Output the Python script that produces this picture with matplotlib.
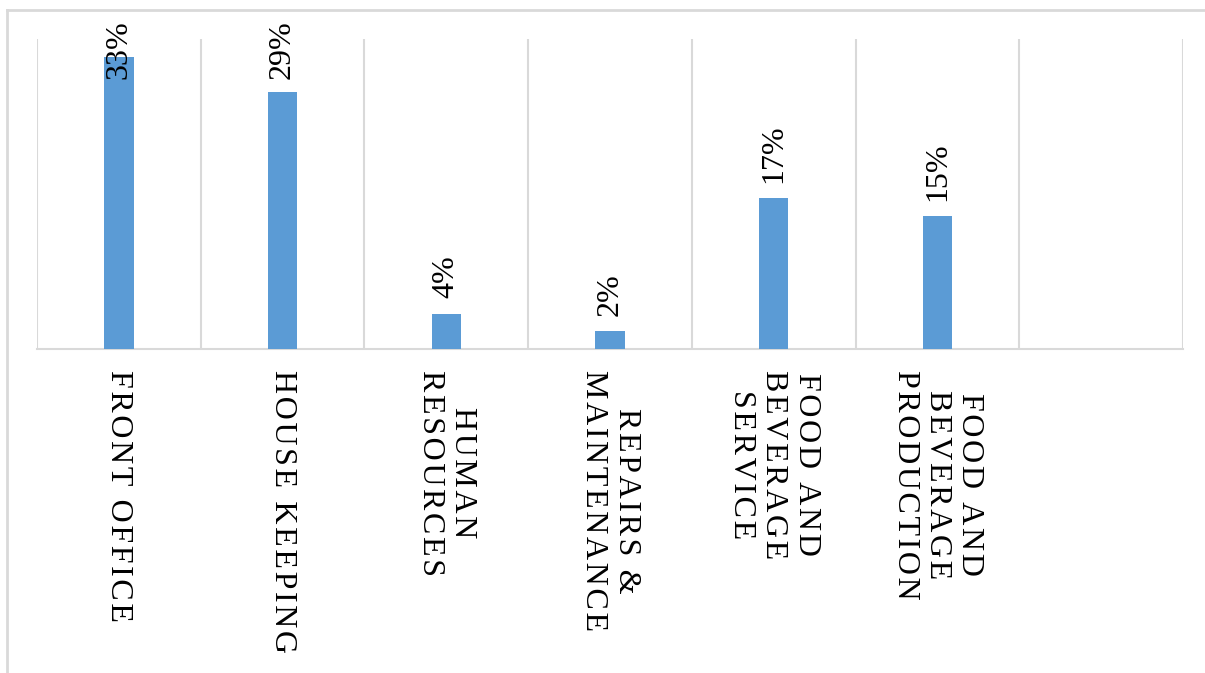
#!/usr/bin/env python3
"""
Departments bar chart with rotated labels
"""

import numpy as np
import matplotlib
matplotlib.use("Agg")
import matplotlib.pyplot as plt
from matplotlib.lines import Line2D

categories = ["FRONT OFFICE", "HOUSE KEEPING", "HUMAN\nRESOURCES",
              "REPAIRS &\nMAINTENANCE", "FOOD AND\nBEVERAGE\nSERVICE",
              "FOOD AND\nBEVERAGE\nPRODUCTION", ""]
values = [33, 29, 4, 2, 17, 15, None]
value_labels = ["33%", "29%", "4%", "2%", "17%", "15%", ""]

W, H = 1205, 673
plt.rcParams['font.family'] = ['Liberation Serif', 'DejaVu Serif']


def spaced(s):
    """
    add a little letter spacing, like the word processor did
    """
    return "\n".join("\u200a".join(line) for line in s.split("\n"))


fig = plt.figure(figsize=(W / 100, H / 100), dpi=100)
# axes box in pixels
left, right, top, bottom = 37, 1183, 39, 349
ax = fig.add_axes([left / W, 1 - bottom / H, (right - left) / W, (bottom - top) / H])

x = np.arange(len(categories))
heights = [v if v is not None else 0 for v in values]
ax.bar(x, heights, width=0.18, color="#5b9bd5", zorder=3)

ax.set_xlim(-0.5, len(categories) - 0.5)
ax.set_ylim(0, 35)
ax.set_yticks([])
ax.set_xticks(x)
ax.set_xticklabels([spaced(c) for c in categories], rotation=-90, fontsize=23,
                   ha="center", va="top", multialignment="center", linespacing=1.15)
ax.tick_params(axis="x", length=0, pad=15)

# category separators
for b in np.arange(-0.5, len(categories), 1.0):
    ax.axvline(b, color="#d9d9d9", lw=1.5, zorder=1)
for s in ["top", "right", "left"]:
    ax.spines[s].set_visible(False)
ax.spines["bottom"].set_color("#d9d9d9")
ax.spines["bottom"].set_linewidth(1.5)

# data labels
fig.canvas.draw()
renderer = fig.canvas.get_renderer()
top_limit = H - 20  # pixel y of highest allowed label top (display coords)
for xi, v, lab in zip(x, values, value_labels):
    if v is None:
        continue
    t = ax.annotate(lab, (xi, v), xytext=(0, 11), textcoords="offset points",
                    rotation=90, ha="center", va="bottom", fontsize=23,
                    annotation_clip=False)
    bb = t.get_window_extent(renderer)
    if bb.y1 > top_limit:
        shift = (bb.y1 - top_limit) * 72 / fig.dpi
        t.set_position((0, 11 - shift))

# outer frame (top and left edges)
fig.add_artist(Line2D([7 / W, 1.0], [1 - 9.5 / H, 1 - 9.5 / H], color="#d9d9d9", lw=2))
fig.add_artist(Line2D([7 / W, 7 / W], [0, 1 - 9.5 / H], color="#d9d9d9", lw=2))

fig.savefig("out.png", dpi=100)
